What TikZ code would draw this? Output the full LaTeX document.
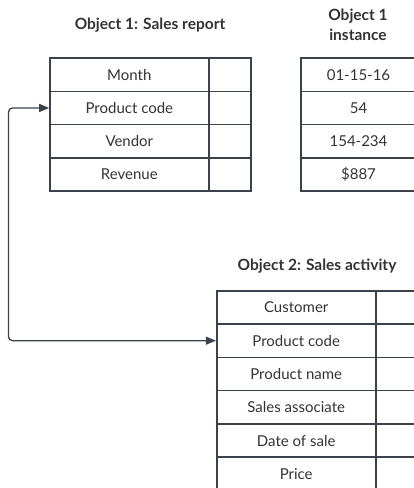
\documentclass[tikz,border=0pt]{standalone}
\usepackage{fontspec}
\setmainfont{Lato}
\usetikzlibrary{arrows.meta}
\definecolor{edge}{HTML}{3B424C}
\definecolor{ink}{HTML}{333333}

\tikzset{
  cell/.style={draw=edge, line width=1.6pt, minimum height=33.3pt, inner sep=0pt,
    text=ink, font=\fontsize{15}{17}\selectfont},
  head/.style={text=ink, font=\bfseries\fontsize{15.5}{20}\selectfont, align=center},
  link/.style={draw=edge, line width=1.3pt, rounded corners=4pt,
    {Triangle[length=10pt,width=8pt]}-{Triangle[length=10pt,width=8pt]}}
}

\begin{document}
\begin{tikzpicture}[x=1pt,y=-1pt]
    \useasboundingbox (0,0) rectangle (414,488);
    \clip (0,0) rectangle (414,488);

    %%%%% titles %%%%%
    \node[head] (t1) at (150,25) {Object 1: Sales report};
    \node[head] (t2) at (358,25) {Object 1\\instance};
    \node[head] (t3) at (317,266) {Object 2: Sales activity};

    %%%%% object 1 %%%%%
    \foreach \lbl [count=\i] in {Month, Product code, Vendor, Revenue} {
        \node[cell, minimum width=158.7pt] (r\i) at (129.35, 41.35+33.3*\i) {\lbl};
        \node[cell, minimum width=42pt] (rx\i) at (229.7, 41.35+33.3*\i) {};
    }

    %%%%% instance %%%%%
    \foreach \val [count=\i] in {01-15-16, 54, 154-234, \$887} {
        \node[cell, minimum width=115pt] (v\i) at (358.5, 41.35+33.3*\i) {\val};
    }

    %%%%% object 2 %%%%%
    \foreach \lbl [count=\i] in {Customer, Product code, Product name, Sales associate, Date of sale, Price} {
        \node[cell, minimum width=159pt] (s\i) at (296.2, 274.05+33.3*\i) {\lbl};
        \node[cell, minimum width=42pt] (sx\i) at (396.7, 274.05+33.3*\i) {};
    }

    %%%%% link %%%%%
    \coordinate (turn) at (8.5,108);
    \draw[link] (s2.west) -| (turn) -- (r2.west);
\end{tikzpicture}
\end{document}
